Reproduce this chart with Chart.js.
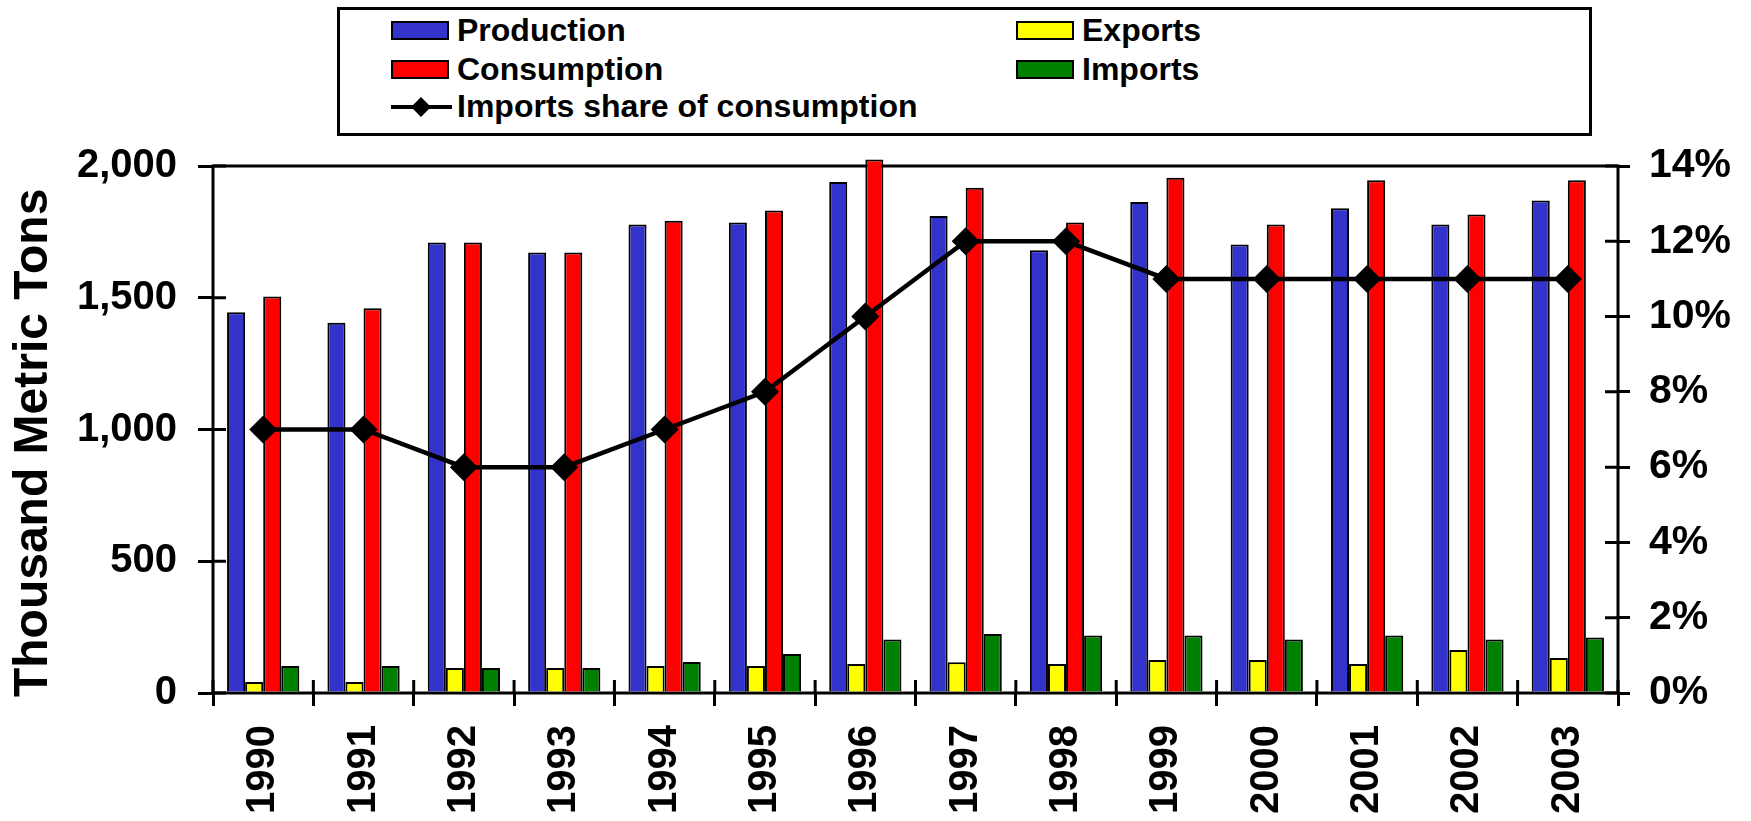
<!DOCTYPE html>
<html lang="en">
<head>
    <meta charset="UTF-8">
    <title>Production, Consumption and Trade</title>
    <script src="https://cdn.jsdelivr.net/npm/chart.js"></script>
    <style>
        body {
            margin: 0;
            background: #fff;
            font-family: 'Liberation Sans', Arial, sans-serif;
        }
        #wrap {
            position: relative;
            width: 1751px;
            height: 821px;
        }
        #legend {
            position: absolute;
            left: 337px;
            top: 7px;
            width: 1255px;
            height: 129px;
            border: 3px solid #000;
            box-sizing: border-box;
            background: #fff;
        }
        .item {
            position: absolute;
            height: 40px;
            display: flex;
            align-items: center;
            font-size: 32px;
            font-weight: bold;
            color: #000;
            white-space: nowrap;
        }
        .swatch {
            width: 58px;
            height: 19px;
            border: 2px solid #000;
            box-sizing: border-box;
            margin-right: 8px;
        }
        .lineKey {
            position: relative;
            width: 61px;
            height: 19px;
            margin-right: 5px;
        }
        .lineKey .bar {
            position: absolute;
            left: 0;
            right: 0;
            top: 8px;
            height: 4px;
            background: #000;
        }
        .lineKey .dia {
            position: absolute;
            left: 23px;
            top: 3px;
            width: 14px;
            height: 14px;
            background: #000;
            transform: rotate(45deg);
        }
    </style>
</head>
<body>
<div id="wrap">
    <canvas id="chart" width="1751" height="821"></canvas>
    <div id="legend"></div>
</div>
<script>
    const years = ['1990', '1991', '1992', '1993', '1994', '1995', '1996',
                   '1997', '1998', '1999', '2000', '2001', '2002', '2003'];
    const production  = [1445, 1405, 1710, 1672, 1778, 1786, 1939, 1810, 1680, 1863, 1702, 1840, 1778, 1869];
    const exportsData = [42, 42, 95, 95, 102, 102, 110, 117, 110, 125, 125, 110, 163, 133];
    const consumption = [1505, 1460, 1710, 1672, 1792, 1831, 2025, 1917, 1786, 1955, 1778, 1946, 1816, 1946];
    const importsData = [102, 102, 95, 95, 118, 148, 203, 224, 218, 218, 203, 218, 203, 211];
    const importShare = [7, 7, 6, 6, 7, 8, 10, 12, 12, 11, 11, 11, 11, 11];   // percent
    const leftTicks = [0, 500, 1000, 1500, 2000];
    const rightTicks = [0, 2, 4, 6, 8, 10, 12, 14];

    Chart.defaults.font.family = "'Liberation Sans', Arial, sans-serif";
    Chart.defaults.font.weight = 'bold';
    Chart.defaults.color = '#000';

    // Excel style "cross" tick marks + plot frame
    const frame = {
        id: 'frame',
        beforeDatasetsDraw(chart) {
            const ctx = chart.ctx;
            const a = chart.chartArea;
            const len = 13;
            ctx.save();
            ctx.strokeStyle = '#000';
            ctx.lineWidth = 3;
            ctx.strokeRect(a.left, a.top, a.right - a.left, a.bottom - a.top);
            ctx.beginPath();
            leftTicks.forEach(v => {
                const y = chart.scales.y.getPixelForValue(v);
                ctx.moveTo(a.left, y); ctx.lineTo(a.left + len, y);
            });
            rightTicks.forEach(v => {
                const y = chart.scales.y1.getPixelForValue(v);
                ctx.moveTo(a.right, y); ctx.lineTo(a.right - len, y);
            });
            const xs = chart.scales.x;
            const w = xs.getPixelForValue(1) - xs.getPixelForValue(0);
            for (let i = 0; i <= years.length; i++) {
                const x = xs.getPixelForValue(0) - w / 2 + i * w;
                ctx.moveTo(x, a.bottom); ctx.lineTo(x, a.bottom - len);
            }
            ctx.stroke();
            ctx.restore();
        }
    };

    const tickGrid = (len) => ({ drawOnChartArea: false, drawTicks: true, tickLength: len, color: '#000', lineWidth: 3 });

    const chart = new Chart(document.getElementById('chart'), {
        data: {
            labels: years,
            datasets: [
                { type: 'bar', label: 'Production', data: production, backgroundColor: '#3333CC' },
                { type: 'bar', label: 'Exports', data: exportsData, backgroundColor: '#FFFF00' },
                { type: 'bar', label: 'Consumption', data: consumption, backgroundColor: '#FF0000' },
                { type: 'bar', label: 'Imports', data: importsData, backgroundColor: '#008000' },
                {
                    type: 'line', label: 'Imports share of consumption', data: importShare,
                    yAxisID: 'y1', order: -1,
                    borderColor: '#000', borderWidth: 4.5, tension: 0,
                    pointStyle: 'rectRot', pointRadius: 14, pointBackgroundColor: '#000', pointBorderWidth: 0
                }
            ]
        },
        options: {
            responsive: false,
            animation: false,
            layout: { padding: { top: 166, left: 0, right: 0, bottom: 0 } },
            datasets: {
                bar: {
                    categoryPercentage: 0.72,
                    barPercentage: 1.0,
                    borderColor: '#000',
                    borderWidth: 2,
                    clip: false
                }
            },
            plugins: {
                legend: { display: false },
                tooltip: { enabled: false }
            },
            scales: {
                x: {
                    border: { display: false },
                    grid: tickGrid(13),
                    ticks: { font: { size: 40 }, minRotation: 90, maxRotation: 90, padding: 19, autoSkip: false },
                    afterFit(s) { s.height = 128; }
                },
                y: {
                    position: 'left',
                    min: 0, max: 2000,
                    border: { display: false },
                    grid: tickGrid(15),
                    afterBuildTicks(s) { s.ticks = leftTicks.map(v => ({ value: v })); },
                    ticks: { font: { size: 40 }, padding: 21, callback: v => v.toLocaleString('en-US') },
                    title: { display: true, text: 'Thousand Metric Tons  ', font: { size: 48 }, padding: { top: 5, bottom: 0 } },
                    afterFit(s) { s.width = 213; }
                },
                y1: {
                    position: 'right',
                    min: 0, max: 14,
                    border: { display: false },
                    grid: tickGrid(12),
                    afterBuildTicks(s) { s.ticks = rightTicks.map(v => ({ value: v })); },
                    ticks: { font: { size: 41 }, padding: 19, callback: v => v + '%' },
                    afterFit(s) { s.width = 133; }
                }
            }
        },
        plugins: [frame]
    });

    // legend in two columns, like the original
    const slots = [[0, 0], [1, 0], [0, 1], [1, 1], [0, 2]];
    const colX = [51, 676];
    const rowY = [0, 39, 76];
    const legend = document.getElementById('legend');
    chart.data.datasets.forEach((ds, i) => {
        const item = document.createElement('div');
        item.className = 'item';
        item.style.left = colX[slots[i][0]] + 'px';
        item.style.top = rowY[slots[i][1]] + 'px';
        if (ds.type === 'line') {
            item.innerHTML = '<div class="lineKey"><div class="bar"></div><div class="dia"></div></div>';
        } else {
            item.innerHTML = '<div class="swatch" style="background:' + ds.backgroundColor + '"></div>';
        }
        item.appendChild(document.createTextNode(ds.label));
        legend.appendChild(item);
    });
</script>
</body>
</html>
